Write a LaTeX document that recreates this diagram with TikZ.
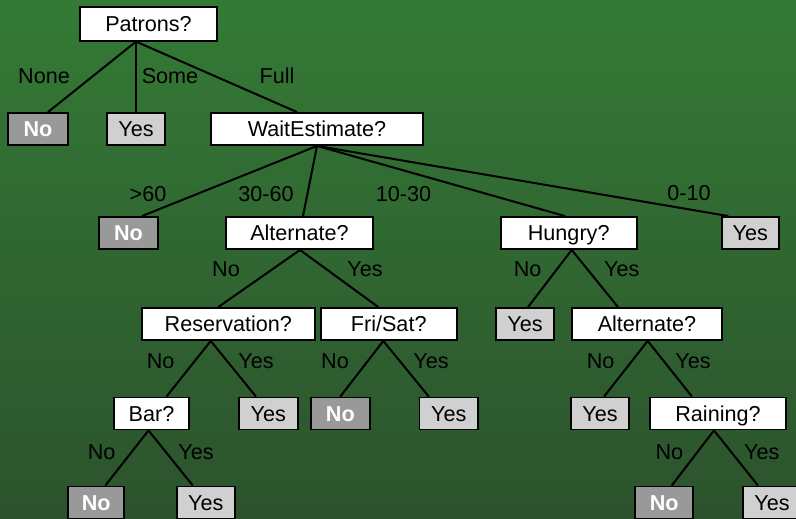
\documentclass[tikz,border=0pt]{standalone}
\usepackage{fontspec}
\setmainfont{Liberation Sans}
\usetikzlibrary{calc}
\definecolor{bgtop}{RGB}{52,122,53}
\definecolor{bgbot}{RGB}{44,82,45}
\definecolor{leafdark}{RGB}{153,153,153}
\definecolor{leaflight}{RGB}{208,208,208}
\tikzset{
  box/.style={draw=black, line width=1.4pt, inner sep=0pt, minimum height=24pt,
    text height=11.6pt, text depth=0pt, font=\fontsize{16.2}{19}\selectfont},
  qbox/.style={box, fill=white},
  nobox/.style={box, fill=leafdark, text=white, font=\fontsize{16.2}{19}\selectfont\bfseries, minimum width=44pt},
  yesbox/.style={box, fill=leaflight, minimum width=44pt},
  lbl/.style={inner sep=0pt, text height=11.6pt, text depth=0pt, font=\fontsize{16.2}{19}\selectfont},
  edge/.style={line width=1.5pt, draw=black}
}
\begin{document}
\begin{tikzpicture}[x=0.75pt, y=-0.75pt]
\useasboundingbox (0,0) rectangle (796,518);
\clip (0,0) rectangle (796,518);
\shade[top color=bgtop, bottom color=bgbot] (0,0) rectangle (796,518);

% question nodes
\node[qbox, minimum width=102.75pt, minimum height=25pt] (patrons) at (148.5,24) {Patrons?};
\node[qbox, minimum width=159pt] (wait) at (317,129) {WaitEstimate?};
\node[qbox, minimum width=110.25pt] (alt1) at (299.5,233) {Alternate?};
\node[qbox, minimum width=102pt] (hungry) at (568.7,233) {Hungry?};
\node[qbox, minimum width=129.75pt] (res) at (228.3,324) {Reservation?};
\node[qbox, minimum width=102pt] (fri) at (388.7,324) {Fri/Sat?};
\node[qbox, minimum width=112.5pt] (alt2) at (647,324) {Alternate?};
\node[qbox, minimum width=56.25pt] (bar) at (151.5,413.5) {Bar?};
\node[qbox, minimum width=102pt] (rain) at (718,413.5) {Raining?};

% leaves
\node[nobox, minimum width=45pt] (no1) at (38,129) {No};
\node[yesbox, minimum width=43.5pt] (yes1) at (136,129) {Yes};
\node[nobox] (no2) at (128.5,233) {No};
\node[yesbox, minimum width=43pt] (yes2) at (750.3,233) {Yes};
\node[yesbox, minimum width=43.5pt] (yes3) at (525,324) {Yes};
\node[yesbox] (yes4) at (268.3,413.5) {Yes};
\node[nobox] (no3) at (340.3,413.5) {No};
\node[yesbox] (yes5) at (448.8,413.5) {Yes};
\node[yesbox] (yes6) at (600,413.5) {Yes};
\node[nobox, minimum width=42pt] (no4) at (96.3,502.5) {No};
\node[yesbox, minimum width=43.5pt] (yes7) at (205.8,502.5) {Yes};
\node[nobox, minimum width=43.5pt] (no5) at (664.2,502.5) {No};
\node[yesbox, minimum width=43.5pt] (yes8) at (772,502.5) {Yes};

% edges
\draw[edge] ($(patrons.south)+(-12.5,0)$) -- ($(no1.north)+(10,0)$);
\draw[edge] ($(patrons.south)+(-12.5,0)$) -- (yes1.north);
\draw[edge] ($(patrons.south)+(-12.5,0)$) -- ($(wait.north)+(-20,0)$);

\draw[edge] (wait.south) -- ($(no2.north)+(13.5,0)$);
\draw[edge] (wait.south) -- ($(alt1.north)+(3.5,0)$);
\draw[edge] (wait.south) -- ($(hungry.north)+(-3.7,0)$);
\draw[edge] (wait.south) -- ($(yes2.north)+(-22,0)$);

\draw[edge] ($(alt1.south)+(0.5,0)$) -- ($(res.north)+(-10,0)$);
\draw[edge] ($(alt1.south)+(0.5,0)$) -- ($(fri.north)+(-10.4,0)$);

\draw[edge] ($(hungry.south)+(3,0)$) -- ($(yes3.north)+(3,0)$);
\draw[edge] ($(hungry.south)+(3,0)$) -- ($(alt2.north)+(-29,0)$);

\draw[edge] ($(res.south)+(-17.6,0)$) -- ($(bar.north)+(15,0)$);
\draw[edge] ($(res.south)+(-17.6,0)$) -- ($(yes4.north)+(-12.3,0)$);

\draw[edge] ($(fri.south)+(-5.4,0)$) -- (no3.north);
\draw[edge] ($(fri.south)+(-5.4,0)$) -- ($(yes5.north)+(-20,0)$);

\draw[edge] ($(alt2.south)+(0.7,0)$) -- ($(yes6.north)+(4,0)$);
\draw[edge] ($(alt2.south)+(0.7,0)$) -- ($(rain.north)+(-26,0)$);

\draw[edge] ($(bar.south)+(-3,0)$) -- ($(no4.north)+(9,0)$);
\draw[edge] ($(bar.south)+(-3,0)$) -- ($(yes7.north)+(-13,0)$);

\draw[edge] ($(rain.south)+(-4,0)$) -- ($(no5.north)+(7.5,0)$);
\draw[edge] ($(rain.south)+(-4,0)$) -- ($(yes8.north)+(-14,0)$);

% labels
\node[lbl] (lnone) at (44,76) {None};
\node[lbl] (lsome) at (170,76) {Some};
\node[lbl] (lfull) at (277,76) {Full};
\node[lbl] (lgt60) at (148,194) {>60};
\node[lbl] (l3060) at (266,194) {30-60};
\node[lbl] (l1030) at (403.5,194) {10-30};
\node[lbl] (l010) at (689,193) {0-10};
\node[lbl] (la1no) at (226,269) {No};
\node[lbl] (la1yes) at (365,269) {Yes};
\node[lbl] (lhno) at (527.7,269) {No};
\node[lbl] (lhyes) at (621.7,269) {Yes};
\node[lbl] (lrno) at (160.7,361) {No};
\node[lbl] (lryes) at (256,361) {Yes};
\node[lbl] (lfno) at (335,361) {No};
\node[lbl] (lfyes) at (431,361) {Yes};
\node[lbl] (la2no) at (600.7,361) {No};
\node[lbl] (la2yes) at (693,361) {Yes};
\node[lbl] (lbno) at (101.7,452) {No};
\node[lbl] (lbyes) at (196,452) {Yes};
\node[lbl] (lrnno) at (669.3,452) {No};
\node[lbl] (lrnyes) at (761.7,452) {Yes};
\end{tikzpicture}
\end{document}
